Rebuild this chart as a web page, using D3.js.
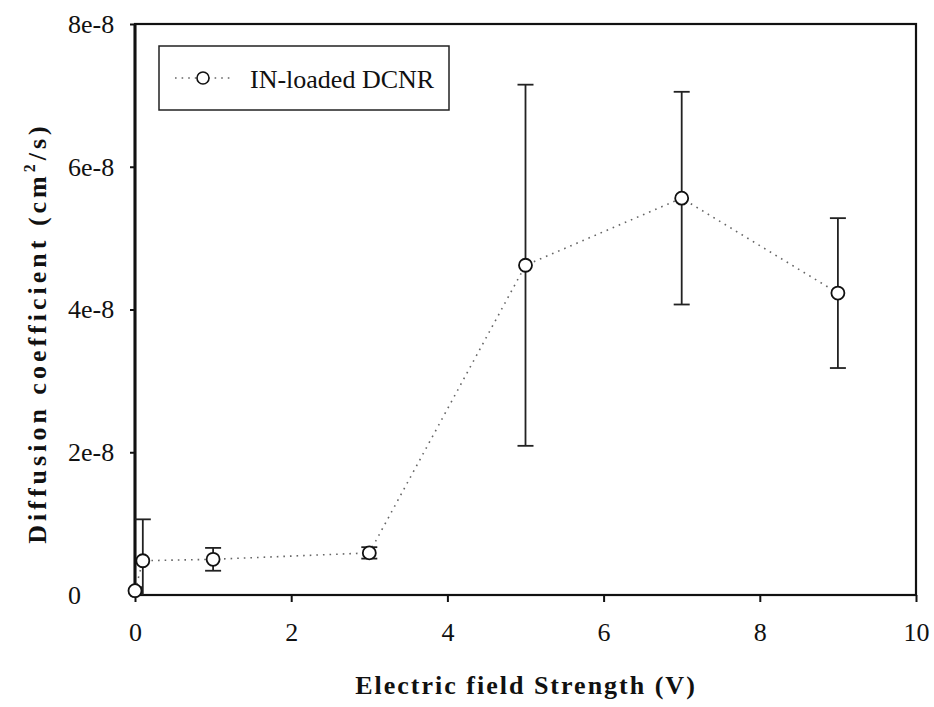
<!DOCTYPE html>
<html>
<head>
<meta charset="utf-8">
<script src="https://cdn.jsdelivr.net/npm/d3@7"></script>
<style>
  body { margin: 0; background: #fff; }
  text { font-family: "Liberation Serif", "DejaVu Serif", serif; fill: #111; }
</style>
</head>
<body>
<svg id="chart" width="934" height="707"></svg>
<script>
// Data
const voltage = [0, 0.1, 1, 3, 5, 7, 9];
const diffusion = [0.06e-8, 0.48e-8, 0.50e-8, 0.59e-8, 4.62e-8, 5.56e-8, 4.23e-8];
const errors = [0.05e-8, 0.58e-8, 0.16e-8, 0.08e-8, 2.53e-8, 1.49e-8, 1.05e-8];
const xTicks = [0, 2, 4, 6, 8, 10];
const yTicks = [0, 2e-8, 4e-8, 6e-8, 8e-8];
const yTickLabels = ["0", "2e-8", "4e-8", "6e-8", "8e-8"];
const seriesName = "IN-loaded DCNR";

const svg = d3.select("#chart");
const plotLeft = 135, plotRight = 916, plotTop = 24, plotBottom = 595;

const x = d3.scaleLinear().domain([0, 10]).range([plotLeft, plotRight]);
const y = d3.scaleLinear().domain([0, 8e-8]).range([plotBottom, plotTop]);

// frame
svg.append("rect")
    .attr("x", plotLeft).attr("y", plotTop)
    .attr("width", plotRight - plotLeft).attr("height", plotBottom - plotTop)
    .attr("fill", "none").attr("stroke", "#111").attr("stroke-width", 2.2);
svg.append("line")
    .attr("x1", plotLeft).attr("x2", plotLeft).attr("y1", plotTop).attr("y2", plotBottom)
    .attr("stroke", "#111").attr("stroke-width", 3);

// x axis
const xAxis = svg.append("g")
    .attr("transform", `translate(0,${plotBottom})`)
    .call(d3.axisBottom(x).tickValues(xTicks).tickSize(7).tickFormat(d3.format("d")));
xAxis.select(".domain").remove();
xAxis.selectAll("line").attr("stroke", "#111").attr("stroke-width", 2);
xAxis.selectAll("text")
    .attr("y", 28)
    .style("font-family", "'Liberation Serif', serif").style("font-size", "26px")
    .attr("fill", "#111");

// y axis
const yAxis = svg.append("g")
    .attr("transform", `translate(${plotLeft},0)`)
    .call(d3.axisLeft(y).tickValues(yTicks).tickSize(5)
        .tickFormat((d, i) => yTickLabels[i]));
yAxis.select(".domain").remove();
yAxis.selectAll("line").attr("stroke", "#111").attr("stroke-width", 2);
yAxis.selectAll("text")
    .attr("x", 68 - plotLeft).attr("text-anchor", "start")
    .style("font-family", "'Liberation Serif', serif").style("font-size", "26px")
    .attr("fill", "#111");

// clip for error bars that run below the axis
svg.append("clipPath").attr("id", "plot-clip")
  .append("rect").attr("x", plotLeft).attr("y", plotTop)
    .attr("width", plotRight - plotLeft).attr("height", plotBottom - plotTop);

const pts = voltage.map((v, i) => ({ v, d: diffusion[i], e: errors[i] }));

// error bars
const eb = svg.append("g").attr("clip-path", "url(#plot-clip)")
    .selectAll("g").data(pts).enter().append("g")
    .attr("stroke", "#222").attr("stroke-width", 1.8);
eb.append("line")
    .attr("x1", d => x(d.v)).attr("x2", d => x(d.v))
    .attr("y1", d => y(d.d + d.e)).attr("y2", d => y(d.d - d.e));
eb.append("line")
    .attr("x1", d => x(d.v) - 8).attr("x2", d => x(d.v) + 8)
    .attr("y1", d => y(d.d + d.e)).attr("y2", d => y(d.d + d.e));
eb.filter(d => d.d - d.e > 0).append("line")
    .attr("x1", d => x(d.v) - 8).attr("x2", d => x(d.v) + 8)
    .attr("y1", d => y(d.d - d.e)).attr("y2", d => y(d.d - d.e));

// dotted connecting line
const line = d3.line().x(d => x(d.v)).y(d => y(d.d));
svg.append("path").datum(pts)
    .attr("d", line)
    .attr("fill", "none").attr("stroke", "#666")
    .attr("stroke-width", 1.6).attr("stroke-dasharray", "1.6,5");

// markers
svg.append("g").selectAll("circle").data(pts).enter().append("circle")
    .attr("cx", d => x(d.v)).attr("cy", d => y(d.d)).attr("r", 6.5)
    .attr("fill", "#fff").attr("stroke", "#111").attr("stroke-width", 1.8);

// legend
const lg = svg.append("g");
lg.append("rect").attr("x", 159).attr("y", 46).attr("width", 290).attr("height", 64)
    .attr("fill", "#fff").attr("stroke", "#222").attr("stroke-width", 1.5);
lg.append("line").attr("x1", 175).attr("x2", 231).attr("y1", 78).attr("y2", 78)
    .attr("stroke", "#666").attr("stroke-width", 1.6).attr("stroke-dasharray", "1.6,5");
lg.append("circle").attr("cx", 203).attr("cy", 78).attr("r", 6)
    .attr("fill", "#fff").attr("stroke", "#111").attr("stroke-width", 1.6);
lg.append("text").attr("x", 250).attr("y", 88)
    .style("font-size", "26px").text(seriesName);

// axis titles
svg.append("text")
    .attr("x", 526).attr("y", 694).attr("text-anchor", "middle")
    .style("font-size", "26px").attr("font-weight", "bold").attr("letter-spacing", 2)
    .text("Electric field Strength (V)");

const yt = svg.append("text")
    .attr("transform", "translate(46,333) rotate(-90)")
    .attr("text-anchor", "middle")
    .style("font-size", "26px").attr("font-weight", "bold").attr("letter-spacing", 4);
yt.append("tspan").text("Diffusion coefficient (cm");
yt.append("tspan").style("font-size", "16px").attr("dy", -11).text("2");
yt.append("tspan").attr("dy", 11).text("/s)");
</script>
</body>
</html>
